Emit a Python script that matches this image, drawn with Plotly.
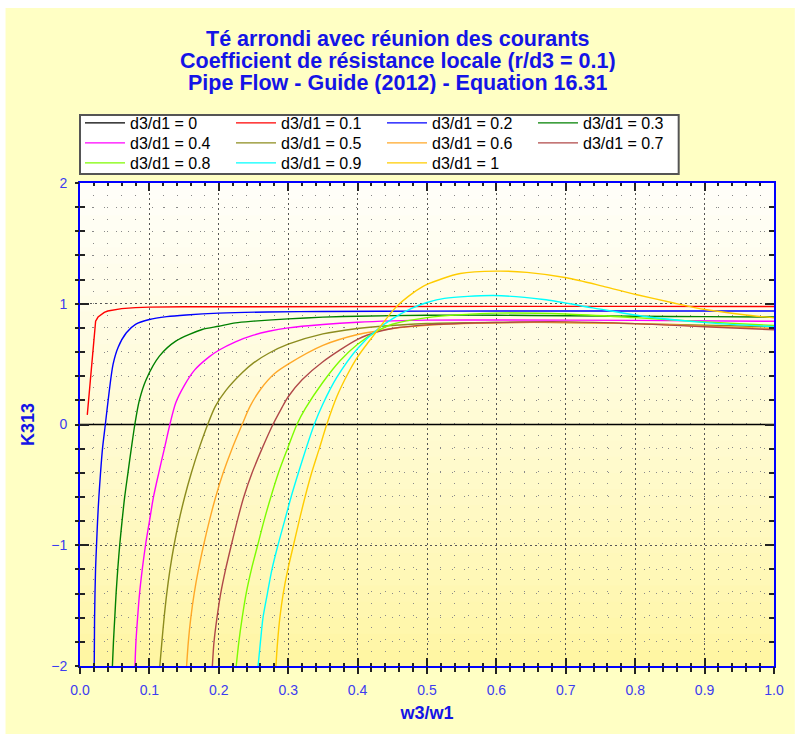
import plotly.graph_objects as go

# ---------------- data ----------------
series_names = ["d3/d1 = 0", "d3/d1 = 0.1", "d3/d1 = 0.2", "d3/d1 = 0.3",
                "d3/d1 = 0.4", "d3/d1 = 0.5", "d3/d1 = 0.6", "d3/d1 = 0.7",
                "d3/d1 = 0.8", "d3/d1 = 0.9", "d3/d1 = 1"]
series_colors = ["#000000", "#FF0000", "#0000FF", "#008000", "#FF00FF", "#8C8C1E",
                 "#FFA828", "#B04848", "#7CFC00", "#00FFFF", "#FFCC00"]

x_r00 = [0.0, 1.0]
k_r00 = [0.0, 0.0]

x_r01 = [0.0105, 0.0225, 0.026, 0.03, 0.035, 0.04, 0.05, 0.06, 0.08, 0.1, 0.15, 0.2, 0.4, 0.6, 0.8, 1.0]
k_r01 = [0.08, 0.855, 0.89, 0.91, 0.928, 0.94, 0.952, 0.96, 0.968, 0.972, 0.975, 0.976, 0.977, 0.978, 0.978, 0.977]

x_r02 = [0.0205, 0.021, 0.0224, 0.0238, 0.0253, 0.0272, 0.0296, 0.0324, 0.0365, 0.042, 0.0477,
         0.055, 0.0668, 0.08, 0.1, 0.125, 0.153, 0.2, 0.27, 0.35, 0.5, 0.7, 1.0]
k_r02 = [-2.0, -1.6, -1.2, -1.0, -0.8, -0.6, -0.4, -0.2, 0.0, 0.27, 0.5,
         0.64, 0.76, 0.83, 0.87, 0.893, 0.907, 0.922, 0.932, 0.936, 0.939, 0.94, 0.94]

x_r03 = [0.0467, 0.0482, 0.0501, 0.052, 0.0544, 0.0572, 0.0606, 0.0644, 0.0691, 0.0739, 0.079,
         0.0855, 0.0954, 0.1144, 0.138, 0.176, 0.2, 0.224, 0.25, 0.3, 0.35, 0.4, 0.5, 0.6, 0.7,
         0.8, 0.9, 1.0]
k_r03 = [-2.0, -1.8, -1.6, -1.4, -1.2, -1.0, -0.8, -0.6, -0.4, -0.2, 0.0,
         0.2, 0.373, 0.566, 0.69, 0.787, 0.814, 0.842, 0.856, 0.875, 0.889, 0.897, 0.905, 0.905, 0.9,
         0.897, 0.893, 0.89]

x_r04 = [0.0792, 0.0806, 0.083, 0.0858, 0.0897, 0.0944, 0.1001, 0.1059, 0.1135, 0.1216, 0.1295,
         0.138, 0.15, 0.165, 0.186, 0.2, 0.224, 0.25, 0.272, 0.3, 0.35, 0.4, 0.45, 0.5, 0.6, 0.8, 1.0]
k_r04 = [-2.0, -1.8, -1.6, -1.4, -1.2, -1.0, -0.8, -0.6, -0.4, -0.2, 0.0,
         0.18, 0.32, 0.45, 0.56, 0.615, 0.685, 0.74, 0.772, 0.8, 0.828, 0.847, 0.858, 0.864, 0.866,
         0.862, 0.855]

x_r05 = [0.115, 0.118, 0.1212, 0.125, 0.1297, 0.1355, 0.1425, 0.1508, 0.1605, 0.1715, 0.184,
         0.195, 0.21, 0.234, 0.25, 0.272, 0.3, 0.35, 0.4, 0.43, 0.5, 0.6, 0.7, 0.8, 0.9, 1.0]
k_r05 = [-2.0, -1.8, -1.6, -1.4, -1.2, -1.0, -0.8, -0.6, -0.4, -0.2, 0.0,
         0.15, 0.28, 0.43, 0.51, 0.59, 0.665, 0.75, 0.795, 0.812, 0.836, 0.845, 0.845, 0.835, 0.822, 0.81]

x_r06 = [0.1536, 0.1561, 0.1597, 0.1645, 0.1707, 0.1781, 0.1863, 0.1955, 0.2063, 0.2191, 0.2336,
         0.245, 0.26, 0.28, 0.3, 0.35, 0.4, 0.43, 0.45, 0.5, 0.6, 0.7, 0.8, 0.9, 1.0]
k_r06 = [-2.0, -1.8, -1.6, -1.4, -1.2, -1.0, -0.8, -0.6, -0.4, -0.2, 0.0,
         0.15, 0.29, 0.42, 0.5, 0.655, 0.745, 0.775, 0.795, 0.822, 0.842, 0.845, 0.835, 0.815, 0.795]

x_r07 = [0.1907, 0.1931, 0.1974, 0.2027, 0.2098, 0.218, 0.2265, 0.236, 0.248, 0.2623, 0.278,
         0.29, 0.3, 0.32, 0.35, 0.4, 0.43, 0.45, 0.5, 0.6, 0.7, 0.8, 0.9, 1.0]
k_r07 = [-2.0, -1.8, -1.6, -1.4, -1.2, -1.0, -0.8, -0.6, -0.4, -0.2, 0.0,
         0.13, 0.23, 0.37, 0.52, 0.705, 0.77, 0.795, 0.825, 0.845, 0.85, 0.835, 0.81, 0.785]

x_r08 = [0.2251, 0.2289, 0.2337, 0.2394, 0.247, 0.256, 0.265, 0.275, 0.286, 0.299, 0.3125,
         0.325, 0.35, 0.375, 0.4, 0.43, 0.45, 0.5, 0.55, 0.6, 0.7, 0.8, 0.9, 1.0]
k_r08 = [-2.0, -1.8, -1.6, -1.4, -1.2, -1.0, -0.8, -0.6, -0.4, -0.2, 0.0,
         0.135, 0.35, 0.53, 0.665, 0.78, 0.83, 0.885, 0.91, 0.922, 0.915, 0.885, 0.85, 0.82]

x_r09 = [0.2566, 0.26, 0.2637, 0.27, 0.2766, 0.2852, 0.2947, 0.3042, 0.3147, 0.3257, 0.3375,
         0.35, 0.37, 0.4, 0.43, 0.45, 0.477, 0.5, 0.525, 0.596, 0.668, 0.739, 0.811, 0.906, 1.0]
k_r09 = [-2.0, -1.8, -1.6, -1.4, -1.2, -1.0, -0.8, -0.6, -0.4, -0.2, 0.0,
         0.17, 0.39, 0.63, 0.795, 0.875, 0.96, 1.01, 1.045, 1.068, 1.035, 0.966, 0.897, 0.842, 0.81]

x_r10 = [0.2823, 0.2847, 0.288, 0.2928, 0.2995, 0.3076, 0.3157, 0.3243, 0.3338, 0.3448, 0.3555,
         0.37, 0.385, 0.4, 0.43, 0.455, 0.48, 0.5, 0.548, 0.6, 0.644, 0.701, 0.753, 0.801, 0.854,
         0.901, 0.954, 1.0]
k_r10 = [-2.0, -1.8, -1.6, -1.4, -1.2, -1.0, -0.8, -0.6, -0.4, -0.2, 0.0,
         0.23, 0.41, 0.56, 0.79, 0.97, 1.09, 1.16, 1.25, 1.27, 1.26, 1.215, 1.146, 1.077, 1.008,
         0.952, 0.911, 0.883]

series_x = [x_r00, x_r01, x_r02, x_r03, x_r04, x_r05, x_r06, x_r07, x_r08, x_r09, x_r10]
series_k = [k_r00, k_r01, k_r02, k_r03, k_r04, k_r05, k_r06, k_r07, k_r08, k_r09, k_r10]

title_lines = ["Té arrondi avec réunion des courants",
               "Coefficient de résistance locale (r/d3 = 0.1)",
               "Pipe Flow - Guide (2012) - Equation 16.31"]
x_title = "w3/w1"
y_title = "K313"
x_range = [0.0, 1.0]
y_range = [-2.0, 2.0]

# ---------------- figure ----------------
FONT = "Liberation Sans, Arial, sans-serif"
BLUE_T = "#1414E6"
BLUE_L = "#3C3CF0"
L, R, T, B = 80, 17, 183, 68
PW, PH = 796 - L - R, 734 - T - B


def px_x(p):
    return (p - L) / PW


def px_y(p):
    return (734 - B - p) / PH


# legend laid out as 4 columns x 3 rows (one horizontal legend per row)
legend_cols = 4
legend_row_tops_px = [106, 126, 146]
legend_keys = ["legend", "legend2", "legend3"]

fig = go.Figure()
for i, (name, col) in enumerate(zip(series_names, series_colors)):
    fig.add_trace(go.Scatter(
        x=series_x[i], y=series_k[i], mode="lines", name=name,
        legend=legend_keys[i // legend_cols],
        line=dict(color=col, width=1.4,
                  shape="linear" if i < 2 else "spline", smoothing=0.8),
    ))
# helper trace for the outside half of the crossing ticks
fig.add_trace(go.Scatter(x=[None], y=[None], xaxis="x2", yaxis="y2",
                         showlegend=False, hoverinfo="skip"))

# background: white border, pale yellow paper, gradient plot area, legend box
shapes = [dict(type="rect", xref="paper", yref="paper", layer="below",
               x0=px_x(5), x1=px_x(800), y0=px_y(740), y1=px_y(8),
               fillcolor="#FFFFC4", line=dict(width=0))]
n = 30
for j in range(n):
    t = (j + 0.5) / n  # 0 bottom -> 1 top
    tt = t ** 0.8
    r, g, b = 255, int(246 + (255 - 246) * tt), int(160 + (250 - 160) * tt)
    shapes.append(dict(type="rect", xref="paper", yref="paper", layer="below",
                       x0=0, x1=1, y0=j / n, y1=(j + 1) / n + 0.002,
                       fillcolor=f"rgb({r},{g},{b})", line=dict(width=0)))
shapes.append(dict(type="rect", xref="paper", yref="paper", layer="below",
                   x0=px_x(80), x1=px_x(683), y0=px_y(174), y1=px_y(115),
                   fillcolor="#FFFFFF", line=dict(color="#555555", width=2)))

annotations = []
for line, yc in zip(title_lines, [39, 61, 83]):
    annotations.append(dict(text=line, xref="paper", yref="paper", x=px_x(400), y=px_y(yc),
                            xanchor="center", yanchor="middle", showarrow=False,
                            height=22, valign="middle",
                            font=dict(family=FONT, size=21.5, color=BLUE_T, weight="bold")))

axis_common = dict(
    showline=True, linecolor="#0000FF", linewidth=2, mirror="allticks",
    ticks="inside", tickcolor="#222222", tickwidth=1.5,
    tickfont=dict(family=FONT, size=14, color=BLUE_L),
    showgrid=True, gridcolor="#555555", griddash="2px,3px", gridwidth=1,
    zeroline=False,
)

legend_common = dict(orientation="h", xanchor="left", yanchor="top", x=px_x(80),
                     entrywidth=96, entrywidthmode="pixels",
                     bgcolor="rgba(0,0,0,0)", borderwidth=0, itemwidth=40,
                     font=dict(family=FONT, size=16, color="#000000"),
                     traceorder="normal", tracegroupgap=0)

fig.update_layout(
    width=796, height=734,
    margin=dict(l=L, r=R, t=T, b=B),
    paper_bgcolor="#FFFFFF", plot_bgcolor="rgba(0,0,0,0)",
    font=dict(family=FONT, color="#000000"),
    shapes=shapes, annotations=annotations,
    xaxis=dict(range=x_range, dtick=0.1, tickformat=".1f", ticklen=8,
               ticklabelstandoff=10,
               minor=dict(dtick=0.02, ticks="inside", ticklen=3, tickcolor="#222222",
                          showgrid=True, gridcolor="#8a8a8a", griddash="1px,11px"),
               title=dict(text=x_title, standoff=10,
                          font=dict(family=FONT, size=18, color=BLUE_T, weight="bold")),
               **axis_common),
    yaxis=dict(range=y_range, dtick=1, ticklen=9, ticklabelstandoff=8,
               minor=dict(dtick=0.2, ticks="inside", ticklen=5, tickcolor="#222222",
                          showgrid=True, gridcolor="#8a8a8a", griddash="1px,11px"),
               title=dict(text=y_title, standoff=12,
                          font=dict(family=FONT, size=18, color=BLUE_T, weight="bold")),
               **axis_common),
    xaxis2=dict(overlaying="x", anchor="y", side="bottom", range=x_range, dtick=0.1,
                ticks="outside", ticklen=7, tickwidth=1.5, tickcolor="#222222",
                showticklabels=False, showgrid=False, showline=False, zeroline=False,
                minor=dict(dtick=0.02, ticks="outside", ticklen=5, tickcolor="#222222")),
    yaxis2=dict(overlaying="y", anchor="x", side="left", range=y_range, dtick=1,
                ticks="outside", ticklen=4, tickwidth=1.5, tickcolor="#222222",
                showticklabels=False, showgrid=False, showline=False, zeroline=False,
                minor=dict(dtick=0.2, ticks="outside", ticklen=4, tickcolor="#222222")),
    legend=dict(y=px_y(legend_row_tops_px[0]), **legend_common),
    legend2=dict(y=px_y(legend_row_tops_px[1]), **legend_common),
    legend3=dict(y=px_y(legend_row_tops_px[2]), **legend_common),
    showlegend=True,
)

fig.write_html("out.html")
